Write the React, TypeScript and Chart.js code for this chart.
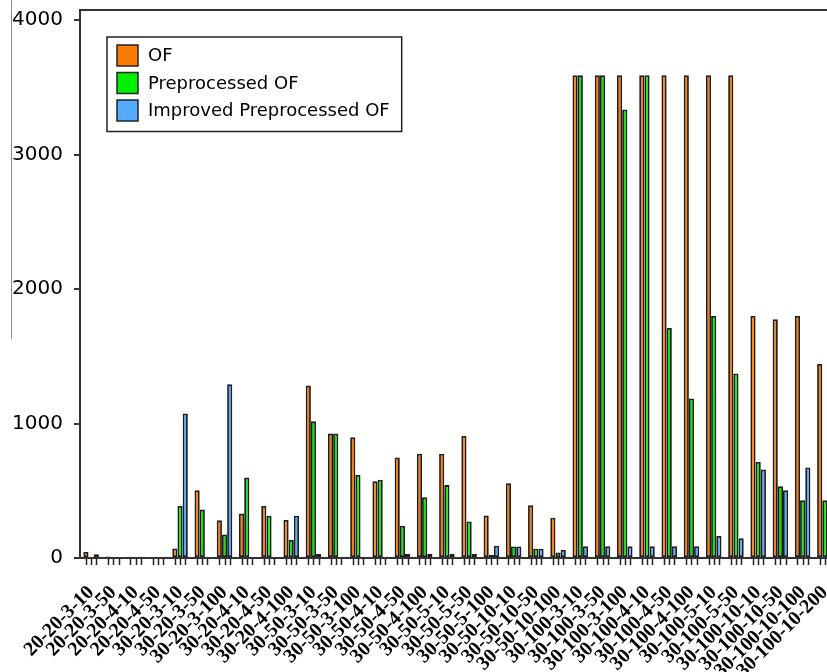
import React, { useEffect, useRef } from "react";
import { Chart, registerables } from "chart.js";

Chart.register(...registerables);

const categories = [
  "20-20-3-10", "20-20-3-50", "20-20-4-10", "20-20-4-50",
  "30-20-3-10", "30-20-3-50", "30-20-3-100", "30-20-4-10", "30-20-4-50", "30-20-4-100",
  "30-50-3-10", "30-50-3-50", "30-50-3-100", "30-50-4-10", "30-50-4-50", "30-50-4-100",
  "30-50-5-10", "30-50-5-50", "30-50-5-100", "30-50-10-10", "30-50-10-50", "30-50-10-100",
  "30-100-3-10", "30-100-3-50", "30-100-3-100", "30-100-4-10", "30-100-4-50", "30-100-4-100",
  "30-100-5-10", "30-100-5-50", "30-100-10-10", "30-100-10-50", "30-100-10-100", "30-100-10-200",
];

const ofValues = [
  45, 12, 10, 10, 70, 504, 280, 330, 387, 283,
  1282, 925, 897, 570, 747, 776, 776, 908, 316, 556,
  392, 300, 3590, 3590, 3590, 3590, 3590, 3590, 3590, 3590,
  1800, 1776, 1800, 1443,
];

const preprocessedValues = [
  5, 0, 0, 0, 387, 360, 174, 598, 315, 134,
  1016, 925, 617, 582, 240, 451, 542, 272, 25, 86,
  69, 40, 3590, 3590, 3336, 3590, 1711, 1186, 1800, 1372,
  714, 534, 429, 429,
];

const improvedValues = [
  28, 0, 10, 10, 1074, 8, 1292, 0, 8, 315,
  30, 5, 10, 5, 30, 30, 30, 30, 91, 86,
  69, 60, 87, 87, 87, 87, 87, 87, 164, 147,
  658, 504, 673, 300,
];

const seriesNames = ["OF", "Preprocessed OF", "Improved Preprocessed OF"];
const seriesColors = ["#ff7b00", "#00ee00", "#55aaff"];
const yTickValues = [0, 1000, 2000, 3000, 4000];
const yMax = 4075;

const FONT = "'DejaVu Sans', sans-serif";
const LABEL_FONT = "'Liberation Serif', serif";

const framePlugin = {
  id: "frameAndTicks",
  afterDatasetsDraw(chart: any) {
    const { ctx, chartArea } = chart;
    ctx.save();
    ctx.strokeStyle = "#222";
    ctx.lineWidth = 1.5;
    chart.data.datasets.forEach((_: any, i: number) => {
      const meta = chart.getDatasetMeta(i);
      meta.data.forEach((el: any) => {
        const x = Math.round(el.x) + 0.5;
        ctx.beginPath();
        ctx.moveTo(x, chartArea.bottom);
        ctx.lineTo(x, chartArea.bottom + 7);
        ctx.stroke();
      });
    });
    ctx.strokeStyle = "#333";
    ctx.lineWidth = 2;
    ctx.strokeRect(chartArea.left, chartArea.top, chartArea.right - chartArea.left, chartArea.bottom - chartArea.top);
    ctx.restore();
  },
  afterDraw(chart: any) {
    const { ctx, chartArea } = chart;
    const datasets = chart.data.datasets;
    ctx.save();
    ctx.font = `18px ${FONT}`;
    let maxW = 0;
    datasets.forEach((d: any) => {
      maxW = Math.max(maxW, ctx.measureText(d.label).width);
    });
    const bx = chartArea.left + 27;
    const by = chartArea.top + 27;
    const rowH = 27.5;
    const sw = 21;
    const bw = 41 + maxW + 12;
    const bh = 12 + datasets.length * rowH;
    ctx.fillStyle = "#fff";
    ctx.fillRect(bx, by, bw, bh);
    ctx.strokeStyle = "#222";
    ctx.lineWidth = 1.5;
    ctx.strokeRect(bx, by, bw, bh);
    datasets.forEach((d: any, i: number) => {
      const cy = by + 18.5 + i * rowH;
      ctx.fillStyle = d.backgroundColor;
      ctx.fillRect(bx + 10, cy - sw / 2, sw, sw);
      ctx.strokeStyle = "#222";
      ctx.lineWidth = 1.5;
      ctx.strokeRect(bx + 10, cy - sw / 2, sw, sw);
      ctx.fillStyle = "#000";
      ctx.textBaseline = "middle";
      ctx.textAlign = "left";
      ctx.fillText(d.label, bx + 41, cy + 1);
    });
    ctx.restore();
  },
};

export default function App() {
  const canvasRef = useRef<HTMLCanvasElement | null>(null);

  useEffect(() => {
    document.body.style.margin = "0";
    const canvas = canvasRef.current;
    if (!canvas) return;
    const values = [ofValues, preprocessedValues, improvedValues];
    const chart = new Chart(canvas, {
      type: "bar",
      data: {
        labels: categories,
        datasets: seriesNames.map((name, i) => ({
          label: name,
          data: values[i],
          backgroundColor: seriesColors[i],
          borderColor: "#1e1e1e",
          borderWidth: 1.8,
          borderSkipped: false,
          categoryPercentage: 0.7,
          barPercentage: 1.0,
        })),
      },
      options: {
        responsive: false,
        animation: false,
        layout: { padding: { left: 0, top: 10, right: 6, bottom: 0 } },
        plugins: {
          legend: { display: false },
          tooltip: { enabled: false },
        },
        scales: {
          x: {
            grid: { display: false, drawTicks: true, tickLength: 8 },
            border: { display: false },
            ticks: {
              autoSkip: false,
              maxRotation: 45,
              minRotation: 45,
              padding: 15,
              color: "#000",
              font: { family: LABEL_FONT, size: 20, weight: "bold" },
            },
            afterFit: (scale: any) => {
              scale.height = 114;
              scale.paddingLeft = 0;
              scale.paddingRight = 0;
            },
          },
          y: {
            min: 0,
            max: yMax,
            grid: {
              drawOnChartArea: false,
              drawTicks: true,
              tickLength: 6,
              color: "#333",
              lineWidth: 2,
            },
            border: { display: false },
            ticks: {
              stepSize: 1000,
              padding: 11,
              color: "#000",
              font: { family: FONT, size: 20 },
              callback: (v: any) => String(v),
            },
            afterBuildTicks: (scale: any) => {
              scale.ticks = yTickValues.map((v) => ({ value: v }));
            },
            afterFit: (scale: any) => {
              scale.width = 80;
              scale.paddingTop = 0;
              scale.paddingBottom = 0;
            },
          },
        },
      },
      plugins: [framePlugin],
    });
    return () => chart.destroy();
  }, []);

  return (
    <div style={{ position: "relative", width: 827, height: 672, overflow: "hidden", background: "#fff" }}>
      <canvas ref={canvasRef} width={842} height={672} style={{ display: "block" }} />
      <div
        style={{
          position: "absolute",
          left: 11,
          top: 0,
          width: 0,
          height: 339,
          borderLeft: "1px solid #8a8a8a",
        }}
      />
    </div>
  );
}
